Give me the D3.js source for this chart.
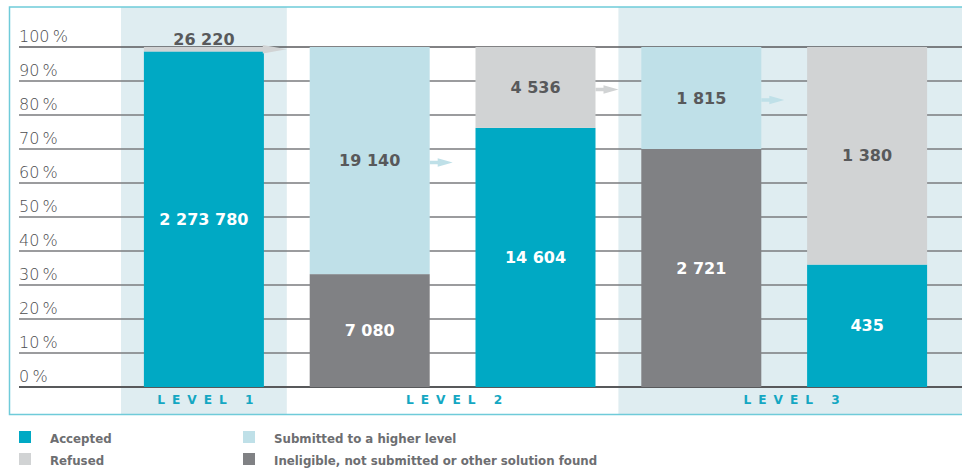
<!DOCTYPE html>
<html><head><meta charset="utf-8">
<script src="https://cdn.jsdelivr.net/npm/d3@7"></script>
<style>
html,body{margin:0;padding:0;background:#fff;}
svg{display:block;}
</style></head>
<body>
<svg id="chart" width="962" height="468"></svg>
<script>
// ---- data ----
const bars = ["L1", "L2a", "L2b", "L3a", "L3b"];
const barLevel = [0, 1, 1, 2, 2];
const levels = ["LEVEL 1", "LEVEL 2", "LEVEL 3"];
const seriesKeys = ["ineligible", "accepted", "submitted", "refused"];
const seriesNames = ["Ineligible, not submitted or other solution found", "Accepted", "Submitted to a higher level", "Refused"];
// share of each bar (%)
const pctIneligible = [0, 33.2, 0, 70, 0];
const pctAccepted   = [98.7, 0, 76.2, 0, 36];
const pctSubmitted  = [1.3, 66.8, 0, 30, 0];
const pctRefused    = [0, 0, 23.8, 0, 64];
// counts printed on the segments
const cntIneligible = [null, 7080, null, 2721, null];
const cntAccepted   = [2273780, null, 14604, null, 435];
const cntSubmitted  = [26220, 19140, null, 1815, null];
const cntRefused    = [null, null, 4536, null, 1380];
// segments that flow on to the next level (arrow)
const arrowSeries = ["submitted", "submitted", "refused", "submitted", null];
const yTicks = [0, 10, 20, 30, 40, 50, 60, 70, 80, 90, 100];
const legendOrder = ["accepted", "submitted", "refused", "ineligible"];

// ---- styles ----
const colors = {accepted: "#00a9c4", submitted: "#bfe0e8", refused: "#d1d3d4", ineligible: "#808184"};
const textOn = {accepted: "#ffffff", submitted: "#58595b", refused: "#58595b", ineligible: "#ffffff"};
const bandFill = "#dfedf1";
const frameColor = "#6fcbd9";

const pct = {ineligible: pctIneligible, accepted: pctAccepted, submitted: pctSubmitted, refused: pctRefused};
const cnt = {ineligible: cntIneligible, accepted: cntAccepted, submitted: cntSubmitted, refused: cntRefused};
const table = bars.map((b, i) => {
  const o = {bar: b, i: i};
  seriesKeys.forEach(k => o[k] = pct[k][i]);
  return o;
});
const stacked = d3.stack().keys(seriesKeys)(table);

const fmt = d3.formatLocale({decimal: ".", thousands: " ", grouping: [3], currency: ["", ""]}).format(",d");

const W = 962, H = 468;
const svg = d3.select("#chart");
svg.append("rect").attr("width", W).attr("height", H).attr("fill", "#fff");

const x = d3.scaleBand().domain(bars).range([121, 950]).paddingInner(0).paddingOuter(0);
const barW = 120;
const bx = b => x(b) + (x.step() - barW) / 2;
const y = d3.scaleLinear().domain([0, 100]).range([387, 47]);

const frameTop = 7, frameBottom = 414.5, frameLeft = 9.5;

// level bands (levels 1 and 3 shaded)
levels.forEach((lv, li) => {
  const idx = bars.filter((b, i) => barLevel[i] === li);
  const x0 = x(idx[0]);
  let x1 = x(idx[idx.length - 1]) + x.step();
  if (li === levels.length - 1) x1 = W;
  if (li !== 1) {
    svg.append("rect").attr("x", x0).attr("y", frameTop).attr("width", x1 - x0)
      .attr("height", frameBottom - frameTop).attr("fill", bandFill);
  }
  svg.append("text").attr("x", (x0 + x1) / 2 + 5).attr("y", 403.5)
    .attr("text-anchor", "middle")
    .attr("font-family", "DejaVu Sans").attr("font-weight", "bold").attr("font-size", 12.2)
    .attr("letter-spacing", "7px").attr("fill", "#14a7c2")
    .text(lv);
});

// gridlines + y labels
const grid = svg.append("g");
yTicks.forEach(t => {
  grid.append("line").attr("x1", 19).attr("x2", W).attr("y1", y(t)).attr("y2", y(t))
    .attr("stroke", (t === 0 || t === 100) ? "#58595b" : "#7a7b7e")
    .attr("stroke-width", (t === 0) ? 2 : 1.5);
  grid.append("text").attr("x", 19).attr("y", y(t) - 5)
    .attr("font-family", "DejaVu Sans").attr("font-weight", 200).attr("font-size", 16)
    .attr("fill", "#4d4d4f").text(t + "\u2009%");
});

// bars
const segs = svg.append("g");
stacked.forEach(layer => {
  const k = layer.key;
  layer.forEach((d, i) => {
    if (d[1] - d[0] <= 0) return;
    const b = bars[i];
    if (i === 0 && k === "submitted") {
      // level-1 flow drawn as an arrow over the top of the bar
      const x0 = bx(b), xe = x(b) + x.step(), ym = (y(d[0]) + y(d[1])) / 2;
      const pts = [[x0, y(d[1])], [xe - 24, y(d[1])], [xe - 24, ym - 4.3], [xe, ym], [xe - 24, ym + 4.3], [xe - 24, y(d[0])], [x0, y(d[0])]];
      segs.append("path").attr("d", d3.line()(pts) + "Z").attr("fill", colors.refused);
      segs.append("text").attr("x", x0 + barW / 2).attr("y", y(100) - 2.5)
        .attr("text-anchor", "middle").attr("font-family", "DejaVu Sans").attr("font-weight", "bold")
        .attr("font-size", 16).attr("fill", "#58595b").text(fmt(cnt[k][i]));
      return;
    }
    segs.append("rect").attr("x", bx(b)).attr("y", y(d[1])).attr("width", barW)
      .attr("height", y(d[0]) - y(d[1])).attr("fill", colors[k]);
    const ym = (y(d[0]) + y(d[1])) / 2;
    if (cnt[k][i] != null) {
      segs.append("text").attr("x", bx(b) + barW / 2).attr("y", ym)
        .attr("text-anchor", "middle").attr("dominant-baseline", "central")
        .attr("font-family", "DejaVu Sans").attr("font-weight", "bold").attr("font-size", 16)
        .attr("fill", textOn[k]).text(fmt(cnt[k][i]));
    }
    if (arrowSeries[i] === k) {
      const xs = bx(b) + barW, ya = ym + 2;
      const pts = [[xs, ya - 1.8], [xs + 8, ya - 1.8], [xs + 8, ya - 4.2], [xs + 23, ya], [xs + 8, ya + 4.2], [xs + 8, ya + 1.8], [xs, ya + 1.8]];
      segs.append("path").attr("d", d3.line()(pts) + "Z")
        .attr("fill", k === "refused" ? colors.refused : colors.submitted);
    }
  });
});

// frame
svg.append("path")
  .attr("d", `M${W + 2},${frameTop} H${frameLeft} V${frameBottom} H${W + 2}`)
  .attr("fill", "none").attr("stroke", frameColor).attr("stroke-width", 1.5);

// legend
const leg = svg.append("g");
legendOrder.forEach((k, j) => {
  const col = j % 2, row = Math.floor(j / 2);
  const lx = col === 0 ? 19 : 243;
  const ly = 431 + row * 22;
  leg.append("rect").attr("x", lx).attr("y", ly).attr("width", 12).attr("height", 12).attr("fill", colors[k]);
  leg.append("text").attr("x", lx + 31).attr("y", ly + 12)
    .attr("font-family", "DejaVu Sans").attr("font-weight", "bold").attr("font-size", 11.8)
    .attr("fill", "#6d6e71").text(seriesNames[seriesKeys.indexOf(k)]);
});
</script>
</body></html>
